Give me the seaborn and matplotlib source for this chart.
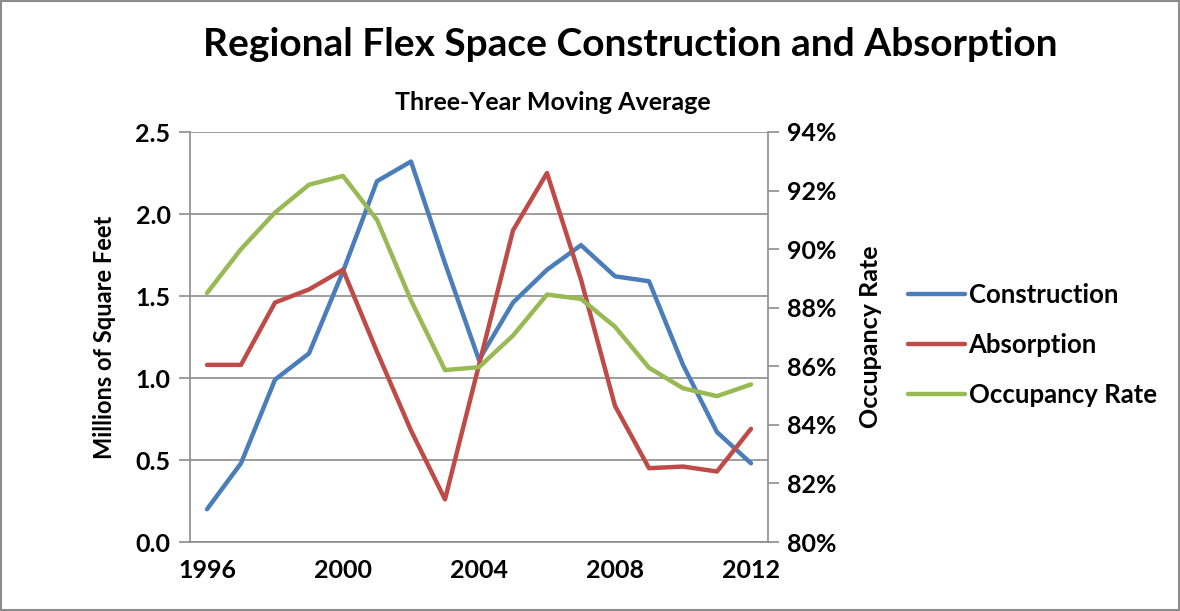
import matplotlib

matplotlib.use("Agg")

import matplotlib.pyplot as plt
import matplotlib.ticker as mticker
import pandas as pd
import seaborn as sns
from matplotlib.lines import Line2D
from matplotlib.patches import Rectangle

years = list(range(1996, 2013))
construction = [0.20, 0.48, 0.99, 1.15, 1.65, 2.20, 2.32, 1.70, 1.11, 1.46,
                1.66, 1.81, 1.62, 1.59, 1.08, 0.67, 0.48]
absorption = [1.08, 1.08, 1.46, 1.54, 1.66, 1.16, 0.68, 0.26, 1.08, 1.90,
              2.25, 1.60, 0.83, 0.45, 0.46, 0.43, 0.69]
occupancy = [88.5, 90.0, 91.25, 92.2, 92.5, 91.0, 88.25, 85.87, 85.97, 87.05,
             88.45, 88.3, 87.35, 85.95, 85.25, 84.98, 85.38]

colors = {"Construction": "#4A7EBB", "Absorption": "#BE4B48", "Occupancy Rate": "#98B954"}

sns.set_style("white")
plt.rcParams["font.family"] = ["Lato", "DejaVu Sans"]
plt.rcParams["font.weight"] = "bold"
plt.rcParams["text.color"] = "black"
plt.rcParams["axes.labelcolor"] = "black"
plt.rcParams["xtick.color"] = "black"
plt.rcParams["ytick.color"] = "black"

df = pd.DataFrame({
    "year": years * 2,
    "value": construction + absorption,
    "series": ["Construction"] * len(years) + ["Absorption"] * len(years),
})
occ = pd.DataFrame({"year": years, "occupancy": occupancy})

fig = plt.figure(figsize=(11.8, 6.11), dpi=100)
ax = fig.add_axes([190 / 1180, 69 / 611, 578 / 1180, 410 / 611])
ax2 = ax.twinx()

sns.lineplot(data=df, x="year", y="value", hue="series", palette=colors,
             linewidth=3.2, ax=ax, legend=False)
sns.lineplot(data=occ, x="year", y="occupancy", color=colors["Occupancy Rate"],
             linewidth=3.2, ax=ax2, legend=False)

grid_c = "#8c8c8c"
ax.set_xlim(1995.5, 2012.5)
ax.set_ylim(0, 2.5)
ax.set_yticks([0, 0.5, 1.0, 1.5, 2.0, 2.5])
ax.yaxis.set_major_formatter(mticker.FormatStrFormatter("%.1f"))
ax.set_xticks([1996, 2000, 2004, 2008, 2012])
ax.set_xticks([y + 0.5 for y in range(1995, 2013)], minor=True)
ax.tick_params(axis="x", which="major", length=0, pad=12, labelsize=18,
               labelcolor="black")
ax.tick_params(axis="x", which="minor", length=8, color=grid_c, width=1.2)
ax.tick_params(axis="y", length=8, color=grid_c, width=1.2, labelsize=18, pad=6,
               labelcolor="black")
ax.grid(axis="y", color=grid_c, linewidth=1.2)
ax.set_axisbelow(True)

ax2.set_ylim(80, 94)
ax2.set_yticks(range(80, 95, 2))
ax2.yaxis.set_major_formatter(mticker.FuncFormatter(lambda v, p: f"{v:.0f}%"))
ax2.tick_params(axis="y", length=8, color=grid_c, width=1.2, labelsize=18, pad=6,
                labelcolor="black")

for a in (ax, ax2):
    for s in a.spines.values():
        s.set_visible(False)
ax.spines["left"].set_visible(True)
ax.spines["bottom"].set_visible(True)
ax2.spines["right"].set_visible(True)
for s in (ax.spines["left"], ax.spines["bottom"], ax2.spines["right"]):
    s.set_color(grid_c)
    s.set_linewidth(1.2)

ax.set_xlabel("")
ax.set_ylabel("Millions of Square Feet", fontsize=17, fontweight="bold", labelpad=14)
ax2.set_ylabel("Occupancy Rate", fontsize=18, fontweight="bold", labelpad=16)

fig.text(630 / 1180, 1 - 45 / 611, "Regional Flex Space Construction and Absorption",
         ha="center", va="center", fontsize=28, fontweight="bold")
fig.text(553 / 1180, 1 - 103 / 611, "Three-Year Moving Average",
         ha="center", va="center", fontsize=18, fontweight="bold")

handles = [Line2D([], [], color=colors[k], linewidth=3.2) for k in colors]
fig.legend(handles, list(colors.keys()), loc="center left",
           bbox_to_anchor=(885 / 1180, 1 - 345 / 611), frameon=False,
           fontsize=18.5, handlelength=2.2, handletextpad=0.15, labelspacing=1.0)

fig.add_artist(Rectangle((0.001, 0.001), 0.998, 0.997, transform=fig.transFigure,
                         fill=False, edgecolor="#8c8c8c", linewidth=1.5))

fig.savefig("out.png", dpi=100)
